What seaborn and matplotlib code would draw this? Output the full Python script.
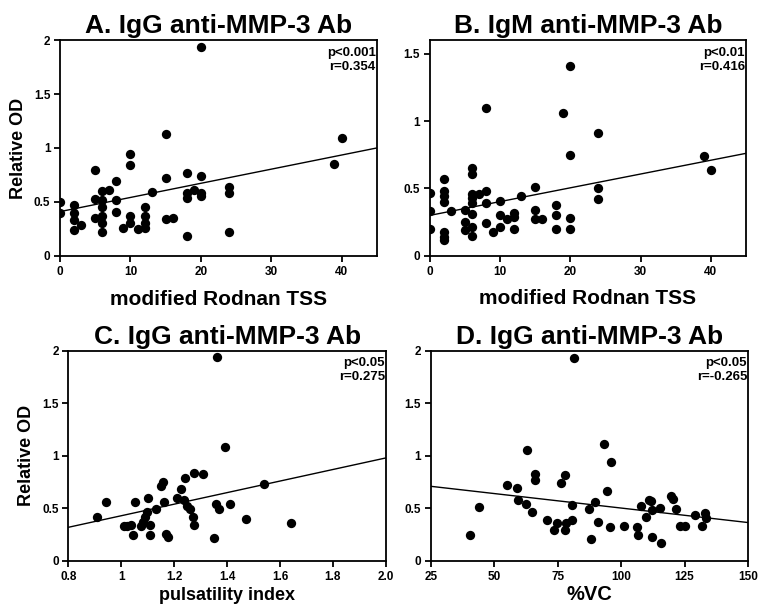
import matplotlib

matplotlib.use("Agg")
import matplotlib.pyplot as plt
import pandas as pd
import seaborn as sns

# A. IgG anti-MMP-3 Ab vs modified Rodnan TSS
a_tss = [0, 0, 2, 2, 2, 2, 3, 5, 5, 5, 6, 7, 6, 6, 6, 6, 6, 8, 8, 8, 9, 10, 10, 10, 10, 11,
         12, 12, 12, 12, 13, 15, 15, 15, 16, 18, 18, 18, 18, 19, 20, 20, 20, 20, 24, 24, 24, 39, 40]
a_od = [0.50, 0.40, 0.47, 0.40, 0.33, 0.24, 0.29, 0.80, 0.53, 0.35, 0.60, 0.61, 0.52, 0.45, 0.37,
        0.30, 0.22, 0.69, 0.52, 0.41, 0.26, 0.94, 0.84, 0.37, 0.30, 0.25, 0.45, 0.37, 0.30, 0.26,
        0.59, 1.13, 0.72, 0.34, 0.35, 0.77, 0.58, 0.54, 0.18, 0.61, 1.94, 0.74, 0.58, 0.55, 0.64,
        0.58, 0.22, 0.855, 1.09]
a_fit_x = [0, 45]
a_fit_y = [0.41, 1.00]

# B. IgM anti-MMP-3 Ab vs modified Rodnan TSS
b_tss = [0, 0, 0, 2, 2, 2, 2, 2, 2, 2, 3, 5, 5, 5, 6, 6, 6, 6, 6, 6, 6, 6, 7, 8, 8, 8, 8, 9,
         10, 10, 10, 11, 12, 12, 12, 13, 15, 15, 15, 16, 18, 18, 18, 19, 20, 20, 20, 20, 24, 24, 24, 39, 40]
b_od = [0.465, 0.33, 0.20, 0.57, 0.48, 0.44, 0.40, 0.18, 0.14, 0.12, 0.33, 0.34, 0.25, 0.19,
        0.65, 0.61, 0.46, 0.43, 0.39, 0.31, 0.21, 0.15, 0.46, 1.10, 0.48, 0.39, 0.24, 0.18,
        0.41, 0.30, 0.21, 0.27, 0.29, 0.32, 0.20, 0.44, 0.51, 0.34, 0.27, 0.27, 0.38, 0.30, 0.20,
        1.06, 1.41, 0.748, 0.28, 0.20, 0.91, 0.50, 0.42, 0.74, 0.64]
b_fit_x = [0, 45]
b_fit_y = [0.30, 0.76]

# C. IgG anti-MMP-3 Ab vs pulsatility index
c_pi = [0.906, 0.94, 1.01, 1.02, 1.035, 1.05, 1.045, 1.075, 1.08, 1.09, 1.095, 1.10, 1.11, 1.11,
        1.13, 1.15, 1.156, 1.16, 1.17, 1.175, 1.21, 1.225, 1.24, 1.235, 1.25, 1.26, 1.275, 1.31,
        1.27, 1.275, 1.35, 1.356, 1.37, 1.39, 1.41, 1.47, 1.54, 1.36, 1.64]
c_od = [0.42, 0.565, 0.33, 0.33, 0.34, 0.565, 0.25, 0.33, 0.37, 0.42, 0.47, 0.60, 0.34, 0.25,
        0.49, 0.71, 0.75, 0.56, 0.26, 0.225, 0.60, 0.68, 0.79, 0.58, 0.52, 0.49, 0.84, 0.83,
        0.42, 0.34, 0.22, 0.54, 0.49, 1.08, 0.54, 0.40, 0.73, 1.94, 0.36]
c_fit_x = [0.8, 2.0]
c_fit_y = [0.32, 0.98]

# D. IgG anti-MMP-3 Ab vs %VC
d_vc = [40.5, 43.9, 62.8, 55.2, 59.1, 59.5, 62.4, 64.8, 66.0, 66.0, 70.9, 73.5, 74.8, 77.8, 78.1,
        80.7, 76.2, 77.8, 80.7, 87.3, 88.3, 89.6, 90.9, 93.4, 94.4, 96.0, 95.8, 101.3, 106.2,
        106.5, 107.9, 109.7, 110.8, 111.8, 112.1, 112.1, 115.4, 115.8, 119.5, 120.6, 121.6,
        123.2, 125.2, 129.1, 131.7, 133.0, 133.6, 81.4]
d_od = [0.25, 0.51, 1.06, 0.72, 0.69, 0.58, 0.54, 0.47, 0.83, 0.77, 0.39, 0.295, 0.36, 0.295, 0.36,
        0.39, 0.74, 0.82, 0.53, 0.49, 0.21, 0.565, 0.37, 1.11, 0.67, 0.94, 0.32, 0.33, 0.32,
        0.25, 0.52, 0.42, 0.58, 0.57, 0.485, 0.225, 0.50, 0.17, 0.62, 0.59, 0.49, 0.33, 0.33,
        0.44, 0.33, 0.46, 0.41, 1.93]
d_fit_x = [25, 150]
d_fit_y = [0.71, 0.365]

titles = ["A. IgG anti-MMP-3 Ab", "B. IgM anti-MMP-3 Ab", "C. IgG anti-MMP-3 Ab", "D. IgG anti-MMP-3 Ab"]
stats = ["p<0.001\nr=0.354", "p<0.01\nr=0.416", "p<0.05\nr=0.275", "p<0.05\nr=-0.265"]
xlabels = ["modified Rodnan TSS", "modified Rodnan TSS", "pulsatility index", "%VC"]
tss_ticks = [0, 10, 20, 30, 40]
pi_ticks = [0.8, 1.0, 1.2, 1.4, 1.6, 1.8, 2.0]
pi_ticklabels = ["0.8", "1", "1.2", "1.4", "1.6", "1.8", "2.0"]
vc_ticks = [25, 50, 75, 100, 125, 150]
od_ticks = [0, 0.5, 1, 1.5, 2]
od_ticklabels = ["0", "0.5", "1", "1.5", "2"]


def draw_panel(ax, x, y, fit_x, fit_y, title, stat, xlabel, ylabel=None, xsize=15, xpad=12):
    df = pd.DataFrame({"x": x, "y": y})
    sns.scatterplot(data=df, x="x", y="y", ax=ax, color="black", s=45, edgecolor="black", linewidth=0)
    sns.lineplot(x=fit_x, y=fit_y, ax=ax, color="black", linewidth=1.0)
    ax.set_title(title, fontsize=19, fontweight="bold", pad=5)
    ax.set_xlabel(xlabel, fontsize=xsize, fontweight="bold", labelpad=xpad)
    ax.set_ylabel(ylabel or "", fontsize=13, fontweight="bold", labelpad=5)
    ax.text(0.997, 0.97, stat, transform=ax.transAxes, ha="right", va="top",
            fontsize=9.5, fontweight="bold", linespacing=1.25)
    for spine in ax.spines.values():
        spine.set_linewidth(1.3)
        spine.set_color("black")
    ax.tick_params(direction="out", length=4.5, width=1.3, labelsize=8.5, pad=2.5, colors="black")
    for label in ax.get_xticklabels() + ax.get_yticklabels():
        label.set_fontweight("bold")


sns.set_style("ticks")
plt.rcParams["font.family"] = ["Liberation Sans", "DejaVu Sans"]
plt.rcParams["text.color"] = "black"
plt.rcParams["axes.labelcolor"] = "black"

fig = plt.figure(figsize=(7.61, 6.09), dpi=100)
ax_a = fig.add_axes([0.079, 0.580, 0.416, 0.354])
ax_b = fig.add_axes([0.565, 0.580, 0.415, 0.354])
ax_c = fig.add_axes([0.090, 0.079, 0.417, 0.345])
ax_d = fig.add_axes([0.566, 0.079, 0.417, 0.345])

for ax in (ax_a, ax_b):
    ax.set_xlim(0, 45)
    ax.set_xticks(tss_ticks)
ax_a.set_ylim(0, 2)
ax_a.set_yticks(od_ticks)
ax_a.set_yticklabels(od_ticklabels)
ax_b.set_ylim(0, 1.6)
ax_b.set_yticks(od_ticks[:4])
ax_b.set_yticklabels(od_ticklabels[:4])
ax_c.set_xlim(0.8, 2.0)
ax_c.set_xticks(pi_ticks)
ax_c.set_xticklabels(pi_ticklabels)
ax_d.set_xlim(25, 150)
ax_d.set_xticks(vc_ticks)
for ax in (ax_c, ax_d):
    ax.set_ylim(0, 2)
    ax.set_yticks(od_ticks)
    ax.set_yticklabels(od_ticklabels)

draw_panel(ax_a, a_tss, a_od, a_fit_x, a_fit_y, titles[0], stats[0], xlabels[0], "Relative OD", xsize=15, xpad=9)
draw_panel(ax_b, b_tss, b_od, b_fit_x, b_fit_y, titles[1], stats[1], xlabels[1], xsize=15, xpad=8)
draw_panel(ax_c, c_pi, c_od, c_fit_x, c_fit_y, titles[2], stats[2], xlabels[2], "Relative OD", xsize=13, xpad=3)
draw_panel(ax_d, d_vc, d_od, d_fit_x, d_fit_y, titles[3], stats[3], xlabels[3], xsize=14.5, xpad=2)

fig.savefig("out.png", dpi=100)
plt.close(fig)
